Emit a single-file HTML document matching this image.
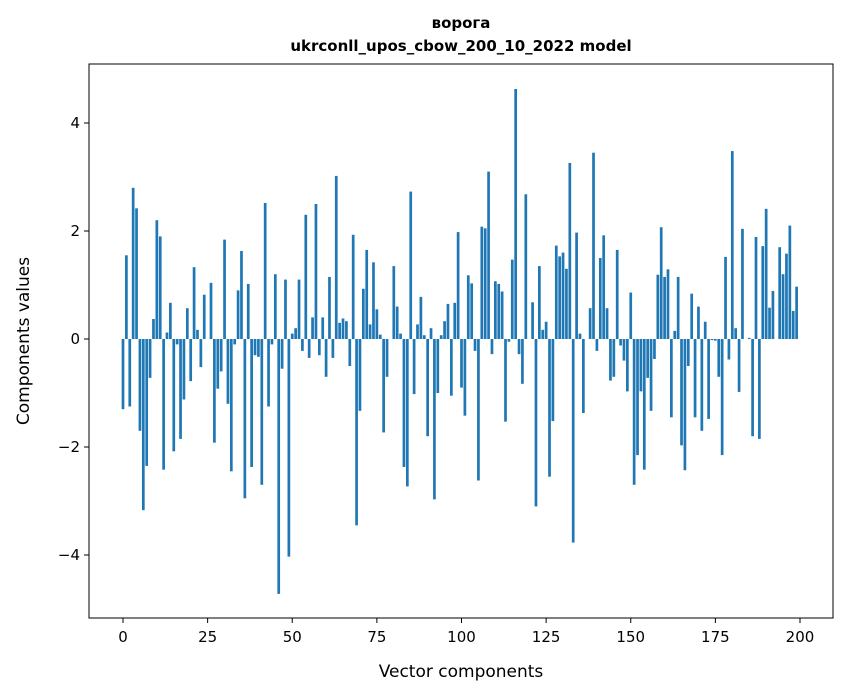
<!DOCTYPE html>
<html><head><meta charset="utf-8">
<style>
html,body{margin:0;padding:0;background:#fff;}
svg{display:block;font-family:"DejaVu Sans","Liberation Sans",sans-serif;}
</style></head>
<body>
<svg id="chart" width="847" height="696" viewBox="0 0 847 696">
<rect width="847" height="696" fill="#fff"/>
<text x="461" y="28" text-anchor="middle" font-size="15" font-weight="bold">ворога</text>
<text x="461" y="51" text-anchor="middle" font-size="15" font-weight="bold">ukrconll_upos_cbow_200_10_2022 model</text>
<g id="bars"></g>
<g id="xticks"></g>
<g id="yticks"></g>
<rect x="89" y="64" width="744" height="554" fill="none" stroke="#000" stroke-width="1"/>
<text x="461" y="677" text-anchor="middle" font-size="17">Vector components</text>
<text transform="translate(29,341) rotate(-90)" text-anchor="middle" font-size="17">Components values</text>
</svg>
<script>
const values = [-1.3,1.55,-1.25,2.8,2.42,-1.7,-3.17,-2.35,-0.72,0.37,
2.2,1.9,-2.42,0.12,0.67,-2.08,-0.1,-1.85,-1.12,0.57,
-0.78,1.33,0.17,-0.52,0.82,0.0,1.04,-1.92,-0.92,-0.6,
1.84,-1.2,-2.45,-0.1,0.9,1.63,-2.95,1.02,-2.37,-0.3,
-0.33,-2.7,2.52,-1.25,-0.1,1.2,-4.72,-0.55,1.1,-4.03,
0.1,0.2,1.1,-0.22,2.3,-0.35,0.4,2.5,-0.3,0.4,
-0.7,1.15,-0.35,3.02,0.3,0.38,0.33,-0.5,1.93,-3.45,
-1.33,0.93,1.65,0.27,1.42,0.55,0.08,-1.73,-0.7,0.0,
1.35,0.6,0.1,-2.37,-2.73,2.73,-1.02,0.27,0.78,0.07,
-1.8,0.2,-2.97,-1.0,0.07,0.33,0.65,-1.05,0.67,1.98,
-0.9,-1.42,1.18,1.03,-0.22,-2.62,2.08,2.05,3.1,-0.28,
1.07,1.02,0.88,-1.53,-0.05,1.47,4.63,-0.28,-0.83,2.68,
0.0,0.68,-3.1,1.35,0.17,0.32,-2.55,-1.52,1.73,1.53,
1.6,1.3,3.26,-3.77,1.97,0.1,-1.37,0.0,0.57,3.45,
-0.22,1.5,1.92,0.57,-0.77,-0.7,1.65,-0.12,-0.4,-0.97,
0.86,-2.7,-2.15,-0.97,-2.42,-0.72,-1.33,-0.37,1.19,2.07,
1.15,1.29,-1.45,0.15,1.15,-1.97,-2.43,-0.5,0.84,-1.45,
0.6,-1.7,0.32,-1.48,-0.02,-0.03,-0.7,-2.15,1.52,-0.38,
3.48,0.2,-0.98,2.04,0.0,0.02,-1.8,1.89,-1.85,1.72,
2.41,0.58,0.89,0.0,1.7,1.2,1.58,2.1,0.52,0.97];
const xTickValues = [0,25,50,75,100,125,150,175,200];
const yTickValues = [-4,-2,0,2,4];
const yTickLabels = ["\u22124","\u22122","0","2","4"];

const NS = "http://www.w3.org/2000/svg";
function xs(v){ return 123 + v * 3.385; }
function ys(v){ return 339 - v * 54; }
const barsG = document.getElementById('bars');
values.forEach(function(v,i){
  const r = document.createElementNS(NS,'rect');
  const x0 = xs(i - 0.4), x1 = xs(i + 0.4);
  const y0 = Math.min(ys(v), ys(0)), y1 = Math.max(ys(v), ys(0));
  r.setAttribute('x', x0);
  r.setAttribute('width', x1 - x0);
  r.setAttribute('y', y0);
  r.setAttribute('height', Math.max(y1 - y0, 0.01));
  r.setAttribute('fill', '#1f77b4');
  
  
  barsG.appendChild(r);
});
const xg = document.getElementById('xticks');
xTickValues.forEach(function(t){
  const l = document.createElementNS(NS,'line');
  l.setAttribute('x1', xs(t)); l.setAttribute('x2', xs(t));
  l.setAttribute('y1', 618); l.setAttribute('y2', 623);
  l.setAttribute('stroke', '#000');
  
  
  xg.appendChild(l);
  const tx = document.createElementNS(NS,'text');
  tx.setAttribute('x', xs(t)); tx.setAttribute('y', 642);
  tx.setAttribute('text-anchor', 'middle');
  tx.setAttribute('font-size', '15');
  tx.textContent = String(t);
  
  
  xg.appendChild(tx);
});
const yg = document.getElementById('yticks');
yTickValues.forEach(function(t,i){
  const l = document.createElementNS(NS,'line');
  l.setAttribute('x1', 84); l.setAttribute('x2', 89);
  l.setAttribute('y1', ys(t)); l.setAttribute('y2', ys(t));
  l.setAttribute('stroke', '#000');
  
  
  yg.appendChild(l);
  const tx = document.createElementNS(NS,'text');
  tx.setAttribute('x', 80); tx.setAttribute('y', ys(t) + 5);
  tx.setAttribute('text-anchor', 'end');
  tx.setAttribute('font-size', '15');
  tx.textContent = yTickLabels[i];
  
  
  yg.appendChild(tx);
});
</script>
</body></html>
